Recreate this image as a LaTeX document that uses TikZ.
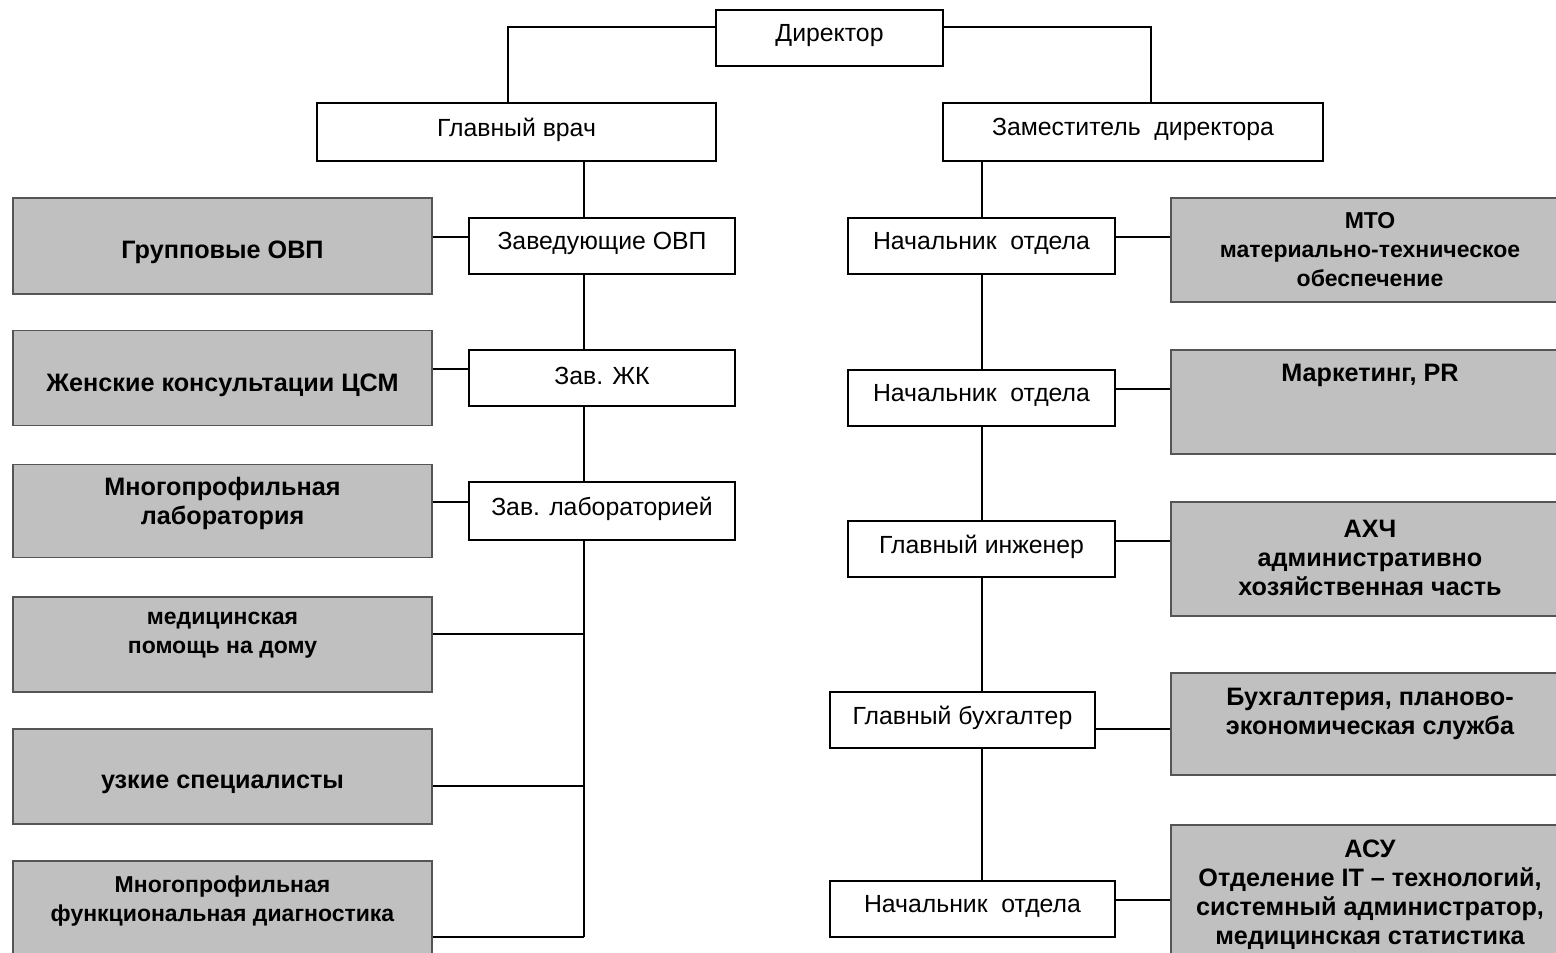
\documentclass[tikz,border=0pt]{standalone}
\usepackage{fontspec}
\setmainfont{Liberation Sans}
\definecolor{boxgray}{RGB}{192,192,192}
\definecolor{edgegray}{RGB}{85,85,85}
\newcommand\uptext[1]{\raisebox{2.5pt}[\height][\depth]{#1}}
\begin{document}
\begin{tikzpicture}[x=1pt,y=-1pt,
  wbox/.style={draw=black, line width=1.6pt, fill=white, inner sep=0pt,
    font=\fontsize{24.8}{29}\selectfont},
  gbox/.style={draw=edgegray, line width=1.6pt, fill=boxgray, inner sep=0pt},
  gtext/.style={font=\fontsize{25.2}{29}\selectfont\bfseries, align=center, inner sep=0pt},
  gsmall/.style={font=\fontsize{23}{29}\selectfont\bfseries, align=center, inner sep=0pt},
  conn/.style={line width=1.6pt, draw=black}]
\useasboundingbox (0,0) rectangle (1556,953);

% spine coordinates
\coordinate (ls) at (584,0);
\coordinate (rs) at (982,0);

% top level
\node[wbox, minimum width=227, minimum height=56] (dir) at (829.5,38) {\uptext{Директор}};
\node[wbox, minimum width=399, minimum height=58] (gv) at (516.5,132) {\uptext{Главный врач}};
\node[wbox, minimum width=380, minimum height=58] (zd) at (1133,132) {\uptext{Заместитель~ директора}};

% left white boxes
\node[wbox, minimum width=266, minimum height=56] (zovp) at (602,246) {\uptext{Заведующие ОВП}};
\node[wbox, minimum width=266, minimum height=56] (zzk) at (602,378) {\uptext{Зав. ЖК}};
\node[wbox, minimum width=266, minimum height=58] (zlab) at (602,511) {\uptext{Зав. лабораторией}};

% left gray boxes
\node[gbox, minimum width=419, minimum height=96] (g1) at (222.5,246) {};
\node[gbox, minimum width=419, minimum height=95] (g2) at (222.5,378) {};
\node[gbox, minimum width=419, minimum height=93] (g3) at (222.5,511) {};
\node[gbox, minimum width=419, minimum height=95] (g4) at (222.5,644.5) {};
\node[gbox, minimum width=419, minimum height=95] (g5) at (222.5,776.5) {};
\node[gbox, minimum width=419, minimum height=129] (g6) at (222.5,925.5) {};

\node[gtext] at (222.5,252.5) {Групповые ОВП};
\node[gtext] at (222.5,385.5) {Женские консультации ЦСМ};
\node[gtext] at (222.5,503.5) {Многопрофильная\\лаборатория};
\node[gsmall] at (222.5,635.5) {медицинская\\помощь на дому};
\node[gtext] at (222.5,784.5) {узкие специалисты};
\node[gsmall] at (222.5,901.5) {Многопрофильная\\функциональная диагностика};

% right white boxes
\node[wbox, minimum width=267, minimum height=56] (n1) at (981.5,246) {\uptext{Начальник~ отдела}};
\node[wbox, minimum width=267, minimum height=56] (n2) at (981.5,398) {\uptext{Начальник~ отдела}};
\node[wbox, minimum width=267, minimum height=56] (gi) at (981.5,549) {\uptext{Главный инженер}};
\node[wbox, minimum width=265, minimum height=56] (gb) at (962.5,720) {\uptext{Главный бухгалтер}};
\node[wbox, minimum width=285, minimum height=56] (n3) at (972.5,909) {\uptext{Начальник~ отдела}};

% right gray boxes
\node[gbox, minimum width=398, minimum height=104] (mto) at (1370,250) {};
\node[gbox, minimum width=398, minimum height=104] (mkt) at (1370,402) {};
\node[gbox, minimum width=398, minimum height=114] (ahch) at (1370,559) {};
\node[gbox, minimum width=398, minimum height=102] (buh) at (1370,724) {};
\node[gbox, minimum width=398, minimum height=165] (asu) at (1370,907.5) {};

\node[gsmall] at (1370,250) {МТО\\материально-техническое\\обеспечение};
\node[gtext] at (1370,375.5) {Маркетинг, PR};
\node[gtext] at (1370,557.5) {АХЧ\\административно\\хозяйственная часть};
\node[gtext] at (1370,713.5) {Бухгалтерия, планово-\\экономическая служба};
\node[gtext] at (1370,894.5) {АСУ\\Отделение IT – технологий,\\системный администратор,\\медицинская статистика};

% junction coordinates
\coordinate (j4) at (584,634);
\coordinate (j5) at (584,786);
\coordinate (j6) at (584,937);

% connectors: top
\draw[conn] ([yshift=11pt]dir.west) -| ([xshift=-8.5pt]gv.north);
\draw[conn] ([yshift=11pt]dir.east) -| ([xshift=18pt]zd.north);

% left spine
\draw[conn] (gv.south -| ls) -- (zovp.north -| ls);
\draw[conn] (zovp.south -| ls) -- (zzk.north -| ls);
\draw[conn] (zzk.south -| ls) -- (zlab.north -| ls);
\draw[conn] (zlab.south -| ls) -- (j6);
\draw[conn] ([yshift=9pt]g1.east) -- ([yshift=9pt]zovp.west);
\draw[conn] ([yshift=9pt]g2.east) -- ([yshift=9pt]zzk.west);
\draw[conn] ([yshift=9pt]g3.east) -- ([yshift=9pt]zlab.west);
\draw[conn] ([yshift=10.5pt]g4.east) -- (j4);
\draw[conn] ([yshift=-9.5pt]g5.east) -- (j5);
\draw[conn] ([yshift=-11.5pt]g6.east) -- (j6);

% right spine
\draw[conn] (zd.south -| rs) -- (n1.north -| rs);
\draw[conn] (n1.south -| rs) -- (n2.north -| rs);
\draw[conn] (n2.south -| rs) -- (gi.north -| rs);
\draw[conn] (gi.south -| rs) -- (gb.north -| rs);
\draw[conn] (gb.south -| rs) -- (n3.north -| rs);
\draw[conn] ([yshift=9pt]n1.east) -- ([yshift=13pt]mto.west);
\draw[conn] ([yshift=9pt]n2.east) -- ([yshift=13pt]mkt.west);
\draw[conn] ([yshift=8pt]gi.east) -- ([yshift=18pt]ahch.west);
\draw[conn] ([yshift=-9pt]gb.east) -- ([yshift=-5pt]buh.west);
\draw[conn] ([yshift=9pt]n3.east) -- ([yshift=7.5pt]asu.west);
\end{tikzpicture}
\end{document}
